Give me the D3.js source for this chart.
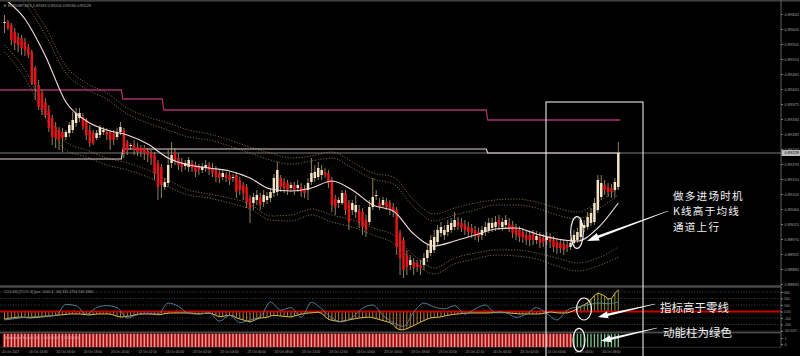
<!DOCTYPE html>
<html><head><meta charset="utf-8">
<script src="https://cdn.jsdelivr.net/npm/d3@7"></script>
<style>html,body{margin:0;padding:0;background:#000;overflow:hidden}svg{display:block}</style>
</head><body>
<svg id="c" width="800" height="356"></svg>
<script>
// ---- candle data (price in points, 1e-5) ----
const openP=[89618,89621,89612,89591,89576,89573,89561,89546,89531,89483,
89432,89408,89381,89357,89333,89306,89297,89291,89276,89288,
89297,89318,89333,89336,89327,89297,89288,89273,89282,89291,
89291,89291,89288,89276,89291,89297,89261,89249,89252,89246,
89243,89243,89234,89228,89222,89198,89186,89126,89138,89198,
89231,89213,89201,89189,89186,89198,89192,89186,89177,89183,
89192,89183,89177,89168,89156,89162,89162,89153,89162,89147,
89132,89126,89093,89078,89087,89096,89081,89087,89093,89108,
89111,89153,89141,89138,89123,89132,89123,89126,89120,89117,
89141,89153,89156,89162,89171,89168,89147,89093,89078,89078,
89108,89078,89057,89051,89057,89051,89027,89021,89066,89099,
89078,89072,89081,89078,89066,89057,88988,88967,88922,88892,
88901,88898,88892,88892,88913,88928,88937,88961,88988,88982,
88991,88997,89006,89021,89018,89012,89006,89003,88997,88991,
88982,88991,88997,89003,89006,89027,89006,89012,89018,89012,
89003,88997,88991,88982,88982,88985,88967,88976,88973,88967,
88976,88967,88961,88958,88955,88952,88946,88958,88967,88976,
89003,89006,89018,89021,89057,89096,89132,89126,89123,89117,
89126];
const highP=[89642,89627,89618,89603,89588,89582,89573,89555,89537,89489,
89447,89417,89393,89372,89342,89321,89306,89303,89297,89321,
89351,89363,89363,89348,89333,89312,89297,89297,89312,89306,
89303,89297,89297,89303,89321,89303,89267,89258,89267,89258,
89252,89252,89243,89237,89231,89207,89195,89153,89237,89261,
89243,89228,89213,89207,89216,89207,89201,89195,89198,89207,
89201,89198,89189,89177,89177,89171,89171,89165,89171,89156,
89141,89135,89102,89108,89117,89108,89117,89111,89123,89165,
89201,89162,89153,89147,89141,89141,89147,89138,89132,89153,
89213,89192,89201,89192,89183,89177,89156,89102,89096,89117,
89117,89087,89087,89102,89072,89063,89042,89087,89153,89117,
89093,89096,89093,89087,89078,89066,88997,88976,88937,88922,
88913,88907,88907,88928,88952,88982,88997,89012,89021,89012,
89027,89033,89051,89036,89033,89027,89021,89015,89009,89003,
89009,89021,89033,89033,89039,89042,89033,89042,89033,89024,
89015,89009,89003,88997,88994,88997,88994,88991,88985,88991,
88988,88979,88973,88970,88967,88964,88970,88997,89003,89036,
89027,89051,89063,89093,89162,89162,89147,89138,89135,89153,
89261];
const lowP=[89588,89597,89552,89537,89531,89522,89519,89513,89432,89387,
89357,89342,89333,89291,89252,89243,89237,89231,89267,89276,
89288,89306,89321,89297,89267,89246,89252,89267,89273,89282,
89267,89237,89252,89267,89282,89213,89222,89237,89222,89219,
89216,89207,89201,89192,89147,89087,89093,89117,89126,89183,
89192,89177,89171,89177,89171,89171,89156,89162,89168,89171,
89162,89156,89141,89138,89147,89141,89132,89141,89093,89102,
89087,89063,89018,89057,89072,89057,89066,89075,89081,89096,
89099,89111,89108,89102,89111,89102,89111,89096,89093,89087,
89132,89141,89147,89147,89153,89123,89051,89042,89063,89072,
89042,88997,89042,89033,89003,88982,88976,89012,89057,89087,
89057,89063,89057,89042,89036,88922,88862,88853,88862,88877,
88862,88871,88862,88877,88901,88919,88928,88952,88976,88967,
88979,88988,88997,88997,88991,88982,88976,88973,88967,88961,
88967,88979,88988,88991,88994,88997,88994,89000,88991,88973,
88967,88961,88958,88952,88949,88952,88955,88943,88946,88952,
88943,88931,88925,88928,88922,88931,88937,88949,88958,88967,
88991,88997,89009,89012,89048,89087,89102,89096,89093,89096,
89117];
const closeP=[89621,89603,89567,89558,89552,89543,89537,89522,89438,89432,
89366,89357,89342,89303,89276,89273,89267,89273,89291,89312,
89327,89348,89348,89306,89282,89258,89258,89288,89303,89297,
89282,89267,89267,89291,89306,89228,89237,89252,89237,89231,
89231,89228,89222,89213,89168,89126,89132,89141,89192,89222,
89207,89192,89186,89198,89207,89183,89171,89177,89186,89192,
89177,89168,89156,89153,89168,89153,89147,89156,89111,89117,
89108,89081,89063,89096,89102,89072,89102,89099,89111,89153,
89177,89126,89123,89117,89132,89117,89132,89111,89108,89138,
89168,89171,89183,89177,89162,89138,89072,89066,89087,89108,
89057,89021,89078,89072,89021,89006,88997,89066,89096,89102,
89066,89087,89066,89057,89051,88946,88913,88877,88886,88907,
88883,88886,88883,88913,88937,88967,88976,88997,89006,88997,
89012,89018,89027,89009,89003,88997,88991,88988,88982,88976,
88997,89006,89018,89018,89021,89012,89021,89027,89003,88988,
88982,88976,88976,88967,88967,88967,88979,88958,88961,88976,
88961,88946,88943,88943,88937,88943,88958,88982,88991,89027,
89012,89036,89048,89078,89147,89138,89117,89111,89111,89141,
89228];

// ---- moving average and channel lines (sampled every 6 bars) ----
const maBars=[0,6,12,18,24,30,36,42,48,54,60,66,72,78,84,90,96,102,108,114,120,126,132,138,144,150,156,162,168,174,180];
const maVals=[89690,89630,89519,89381,89324,89297,89282,89255,89213,89192,89183,89174,89153,89120,89114,89123,89144,89117,89072,89054,88985,88949,88964,88982,89000,89003,88985,88970,88964,89003,89078];
const upperOuter=[89747,89693,89606,89489,89438,89408,89363,89336,89318,89297,89285,89267,89246,89228,89213,89219,89231,89201,89168,89156,89087,89045,89063,89078,89087,89090,89081,89063,89051,89081,89123];
const upperInner=[89729,89675,89582,89468,89420,89390,89345,89318,89297,89276,89267,89249,89228,89207,89195,89204,89213,89183,89150,89135,89066,89024,89042,89057,89072,89072,89063,89042,89030,89060,89102];
const lowerInner=[89552,89477,89357,89261,89237,89213,89198,89177,89147,89117,89105,89093,89075,89039,89042,89060,89042,89027,89003,88982,88922,88883,88913,88928,88937,88937,88928,88913,88898,88913,88946];
const lowerOuter=[89531,89453,89333,89237,89216,89192,89177,89156,89126,89102,89093,89078,89060,89027,89024,89042,89021,89006,88982,88958,88901,88865,88895,88910,88922,88919,88910,88889,88874,88889,88916];

// ---- daily level lines ----
const levelStartBars=[0,35,47,142];
const magentaLevels=[89417,89390,89357,89327];
const paleLevels=[89210,89240,89240,89228];
const bidPrice=89228;

// ---- CCI panel ----
const cciVals=[-120,-105,-100,-92,-87,-85,-92,-98,-97,-92,
-87,-82,-77,-71,-66,-61,-55,-50,-45,-39,
-38,-38,-38,-43,-50,-54,-45,-40,-38,-38,
-38,-40,-55,-72,-85,-80,-73,-67,-55,-42,
-38,-38,-38,-40,-45,-51,-45,-33,-26,-23,
-23,-23,-23,-23,-23,-27,-32,-37,-34,-29,
-25,-40,-60,-80,-76,-65,-56,-70,-95,-115,
-130,-146,-162,-140,-118,-100,-95,-89,-70,-60,
-63,-70,-75,-80,-85,-70,-55,-40,-31,-25,
-21,-16,-10,-30,-75,-120,-135,-145,-157,-150,
-140,-130,-120,-110,-100,-95,-90,-86,-95,-110,
-125,-140,-155,-170,-200,-260,-280,-280,-265,-240,
-215,-190,-162,-140,-117,-98,-93,-88,-83,-70,
-60,-50,-43,-38,-32,-27,-24,-23,-23,-23,
-23,-23,-23,-20,-15,-10,-12,-18,-23,-28,
-33,-38,-38,-38,-38,-38,-38,-38,-30,-18,
-8,-13,-20,-23,-23,-23,-5,15,45,75,
105,135,190,245,283,265,240,195,200,280,
331];
const tcciBars=[0,3,6,9,12,15,18,21,24,27,30,33,36,39,42,45,48,51,54,57,60,63,66,69,72,75,78,81,84,87,90,93,96,99,102,105,108,111,114,117,120,123,126,129,132,135,138,141,144,147,150,153,156,159,162,165,168,171,174,177,180];
const tcciVals=[-130,-110,-90,-80,-70,-60,110,90,-40,60,
90,60,-100,-50,-30,-40,130,80,-30,-40,
-20,-150,-60,-170,-130,-80,146,20,60,-90,
140,40,-100,-160,-90,50,100,-60,-170,-230,
-10,130,70,40,90,-40,40,100,-20,-20,
-90,-40,60,-30,-130,20,70,100,130,120,
146];
const cciTicks=[300,200,100,0,-100,-200,-300];
const cciTickLabels=["300","200","100","0.00","-100","-200","-300.3037"];

// ---- momentum bars: 0 = red, 1 = green ----
const momentumDir=("0000000000 0000000000 0000000000 0000000000 0000000000 0000000000 0000000000 0000000000 "+
"0000000000 0000000000 0000000000 0000000000 0000000000 0000000000 0000000000 0000000000 0000000 11111111111111")
  .replace(/ /g,"").split("").map(Number);

// ---- axes labels ----
const priceTicks=[89645,89600,89555,89510,89465,89420,89375,89330,89285,89240,89195,89150,89105,89060,89015,88970,88925,88880,88835];
const timeLabels=["20 Oct 2017","20 Oct 14:00","20 Oct 16:00","20 Oct 18:00","20 Oct 20:00","22 Oct 22:10","23 Oct 00:00","23 Oct 02:00","23 Oct 04:00","23 Oct 06:00","23 Oct 08:00","23 Oct 10:00","23 Oct 12:00","23 Oct 14:00","23 Oct 16:00","23 Oct 18:00","23 Oct 20:00","23 Oct 22:10","24 Oct 00:00","24 Oct 02:00","24 Oct 04:00","24 Oct 06:00","24 Oct 08:00"];

// ================= drawing =================
const svg=d3.select('#c');
svg.append('rect').attr('width',800).attr('height',356).attr('fill','#000');
const defs=svg.append('defs');
function clip(id,x0,y0,w,h){defs.append('clipPath').attr('id',id).append('rect').attr('x',x0).attr('y',y0).attr('width',w).attr('height',h);}
clip('cm',0,2,781,283.5);
clip('cc',0,288.5,781,43);
clip('cv',0,333.5,781,13.5);

const n=openP.length;
const x=d3.scaleLinear().domain([0,180]).range([4.5,618.3]);
const yP=d3.scaleLinear().domain([88826,89681]).range([287,2]);
const yC=d3.scaleLinear().domain([-300,300]).range([331,292]);
const yMAxis=d3.scaleLinear().domain([0,1]).range([344,338]);
const idx=d3.range(n);

// frame
svg.append('rect').attr('x',0).attr('y',0).attr('width',800).attr('height',1.6).attr('fill','#3c3c3c');
svg.append('rect').attr('x',0).attr('y',285.3).attr('width',781).attr('height',2.4).attr('fill','#4a4a4a');
svg.append('rect').attr('x',0).attr('y',331.6).attr('width',781).attr('height',1.8).attr('fill','#4a4a4a');
svg.append('line').attr('x1',0).attr('x2',781).attr('y1',347.3).attr('y2',347.3).attr('stroke','#3a3a3a').attr('stroke-width',0.8);

// ---- main panel ----
const g=svg.append('g').attr('clip-path','url(#cm)');
const band=d3.line().x(d=>x(d[0])).y(d=>yP(d[1])).curve(d3.curveMonotoneX);
[upperOuter,upperInner,lowerInner,lowerOuter].forEach(arr=>{
  g.append('path').attr('d',band(maBars.map((b,i)=>[b,arr[i]])))
   .attr('fill','none').attr('stroke','#9a8052').attr('stroke-width',0.8).attr('stroke-dasharray','1.2,1.6');
});
g.append('line').attr('x1',0).attr('x2',781).attr('y1',yP(bidPrice)).attr('y2',yP(bidPrice)).attr('stroke','#8a8a8a').attr('stroke-width',0.9);
function levelPath(levels){
  const pts=[];
  levels.forEach((v,k)=>{
    const xs=k===0?0:x(levelStartBars[k])-1;
    const xe=k<levels.length-1?x(levelStartBars[k+1])-2.5:x(180)+2;
    pts.push([xs,yP(v)],[xe,yP(v)]);
  });
  return d3.line()(pts);
}
g.append('path').attr('d',levelPath(paleLevels)).attr('fill','none').attr('stroke','#e6d2d2').attr('stroke-width',1.2);
g.append('path').attr('d',levelPath(magentaLevels)).attr('fill','none').attr('stroke','#a8306e').attr('stroke-width',1.3);

g.append('g').selectAll('line').data(idx).join('line')
  .attr('x1',i=>x(i)).attr('x2',i=>x(i)).attr('y1',i=>yP(highP[i])).attr('y2',i=>yP(lowP[i]))
  .attr('stroke','#b5a17a').attr('stroke-width',0.8);
g.append('g').selectAll('rect').data(idx).join('rect')
  .attr('x',i=>x(i)-1.25).attr('width',2.5)
  .attr('y',i=>yP(Math.max(openP[i],closeP[i])))
  .attr('height',i=>Math.max(0.9,Math.abs(yP(openP[i])-yP(closeP[i]))))
  .attr('fill',i=>closeP[i]>=openP[i]?'#f4e4c4':'#e3151a');
g.append('path').attr('d',band(maBars.map((b,i)=>[b,maVals[i]])))
  .attr('fill','none').attr('stroke','#f0d6d6').attr('stroke-width',1.2);

svg.append('text').attr('x',3).attr('y',6.5).attr('font-family','Liberation Sans, Arial').attr('font-size',3.8).attr('fill','#a0a0a0')
  .text('\u25BC EURGBP,M15  0.89183 0.89204 0.89180 0.89228');

// ---- CCI panel ----
const gc=svg.append('g').attr('clip-path','url(#cc)');
cciTicks.filter(t=>t!==0).forEach(t=>{
  gc.append('line').attr('x1',0).attr('x2',781).attr('y1',yC(t)).attr('y2',yC(t))
    .attr('stroke','#6a6a6a').attr('stroke-width',0.6).attr('stroke-dasharray','1,1.6');
});
gc.append('g').selectAll('line').data(idx).join('line')
  .attr('x1',i=>x(i)).attr('x2',i=>x(i)).attr('y1',yC(0)).attr('y2',i=>yC(cciVals[i]))
  .attr('stroke',i=>cciVals[i]<0?'#cf8a3e':'#9fa63a').attr('stroke-width',0.9);
gc.append('line').attr('x1',0).attr('x2',781).attr('y1',yC(0)).attr('y2',yC(0)).attr('stroke','#c40000').attr('stroke-width',1.8);
gc.append('path').attr('d',d3.line().x((v,i)=>x(i)).y(v=>yC(v))(cciVals))
  .attr('fill','none').attr('stroke','#d9bf4a').attr('stroke-width',1);
gc.append('path').attr('d',d3.line().x(d=>x(d[0])).y(d=>yC(d[1])).curve(d3.curveMonotoneX)(tcciBars.map((b,i)=>[b,tcciVals[i]])))
  .attr('fill','none').attr('stroke','#5a8aa2').attr('stroke-width',0.9);
svg.append('text').attr('x',4).attr('y',293.3).attr('font-family','Liberation Sans, Arial').attr('font-size',3.6).attr('fill','#a0a0a0')
  .text('CCI(-63) [TCCI: 6] [per: 1/0/0.4 : 60]  331.2754 146.1680');

// ---- momentum panel ----
const gv=svg.append('g').attr('clip-path','url(#cv)');
gv.append('g').selectAll('rect').data(idx).join('rect')
  .attr('x',i=>x(i)-1.71).attr('width',3.42).attr('y',333.5).attr('height',13.8)
  .attr('fill',i=>momentumDir[i]?'#000':'#b4161a');
gv.append('g').selectAll('line').data(idx).join('line')
  .attr('x1',i=>x(i)).attr('x2',i=>x(i)).attr('y1',333.5).attr('y2',347.3)
  .attr('stroke',i=>momentumDir[i]?'#7cc68c':'#f2a39a').attr('stroke-width',1.3);
svg.append('text').attr('x',4).attr('y',339).attr('font-family','Liberation Sans, Arial').attr('font-size',3.6).attr('fill','#d9a0a0')
  .text('Momentum Bars(5,34)  1.00000000  1.00000000');

// ---- right axes ----
svg.append('line').attr('x1',781).attr('x2',781).attr('y1',0).attr('y2',347.5).attr('stroke','#6a6a6a').attr('stroke-width',0.9);
function styleAxis(sel,size){
  sel.select('.domain').remove();
  sel.selectAll('line').attr('stroke','#7a7a7a');
  sel.selectAll('text').attr('font-family','Liberation Sans, Arial').attr('font-size',size).attr('fill','#a0a0a0');
}
svg.append('g').attr('transform','translate(781,0)')
  .call(d3.axisRight(yP).tickValues(priceTicks).tickSize(2).tickPadding(1.5).tickFormat(d=>(d/1e5).toFixed(5)))
  .call(s=>styleAxis(s,4));
svg.append('rect').attr('x',781.5).attr('y',yP(bidPrice)-3).attr('width',18.5).attr('height',6).attr('fill','#bdbdbd');
svg.append('text').attr('x',784.5).attr('y',yP(bidPrice)+1.4).attr('font-family','Liberation Sans, Arial').attr('font-size',4).attr('fill','#000').text((bidPrice/1e5).toFixed(5));
svg.append('g').attr('transform','translate(781,0)')
  .call(d3.axisRight(yC).tickValues(cciTicks).tickSize(2).tickPadding(1).tickFormat((d,i)=>cciTickLabels[i]))
  .call(s=>styleAxis(s,3.4))
  .call(s=>s.selectAll('text').filter(d=>d===-300).attr('font-size',2.9));
svg.append('g').attr('transform','translate(781,0)')
  .call(d3.axisRight(yMAxis).tickValues([1,0]).tickSize(2).tickPadding(1.5).tickFormat(d3.format('d')))
  .call(s=>styleAxis(s,3.8));

// ---- time labels ----
svg.append('g').selectAll('text').data(timeLabels).join('text')
  .attr('x',(t,k)=>x(8*k)-2.5).attr('y',352.8)
  .attr('font-family','Liberation Sans, Arial').attr('font-size',3.2).attr('fill','#a0a0a0').text(t=>t);

// ---- annotations ----
svg.append('rect').attr('x',546).attr('y',102).attr('width',97).attr('height',260)
  .attr('fill','none').attr('stroke','#e8e8e8').attr('stroke-width',1.1);
function ell(cx,cy,rx,ry){svg.append('ellipse').attr('cx',cx).attr('cy',cy).attr('rx',rx).attr('ry',ry).attr('fill','none').attr('stroke','#f4f4f4').attr('stroke-width',1.2);}
ell(577,232.5,6.3,15.8);
ell(584,309,7.5,11);
ell(579,340,6,11.7);
function arrow(x1,y1,x2,y2,hl,hw,tw0,tw1){
  const dx=x2-x1,dy=y2-y1,L=Math.hypot(dx,dy),ux=dx/L,uy=dy/L,nx=-uy,ny=ux;
  const bx=x2-ux*hl,by=y2-uy*hl;
  const pts=[[x1+nx*tw0/2,y1+ny*tw0/2],[bx+nx*tw1/2,by+ny*tw1/2],[bx+nx*hw/2,by+ny*hw/2],[x2,y2],
             [bx-nx*hw/2,by-ny*hw/2],[bx-nx*tw1/2,by-ny*tw1/2],[x1-nx*tw0/2,y1-ny*tw0/2]];
  svg.append('polygon').attr('points',pts.map(p=>p.join(',')).join(' ')).attr('fill','#fafafa');
}
arrow(668,211,587,241,12,8,0.6,2.6);
arrow(655,304,598,317,10,7,0.6,2.4);
arrow(657,328,601,341,10,7,0.6,2.4);
const cjk='Noto Sans CJK SC, Noto Sans CJK JP, sans-serif';
[['做多进场时机',199.5],['K线高于均线',215],['通道上行',230.5]].forEach(([t,yy])=>{
  svg.append('text').attr('x',673).attr('y',yy).attr('font-family',cjk).attr('font-size',10.6)
    .attr('letter-spacing',1.2).attr('fill','#f2f2f2').text(t);
});
svg.append('text').attr('x',660).attr('y',311.5).attr('font-family',cjk).attr('font-size',11.5).attr('fill','#f2f2f2').text('指标高于零线');
svg.append('text').attr('x',663).attr('y',336.5).attr('font-family',cjk).attr('font-size',11.5).attr('fill','#f2f2f2').text('动能柱为绿色');
</script>
</body></html>
